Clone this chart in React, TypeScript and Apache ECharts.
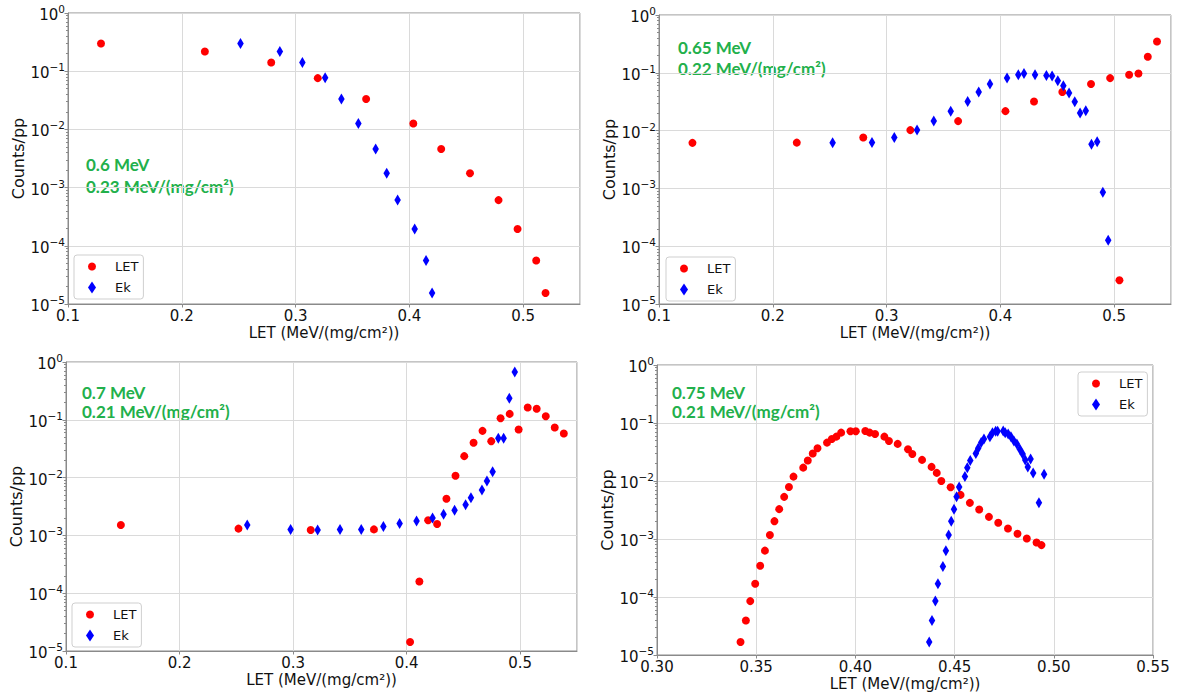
import { useEffect, useRef } from "react";
import * as echarts from "echarts";

// Counts per primary particle versus LET, for the LET spectrum and the Ek-derived spectrum.
// Each panel: [LET (MeV/(mg/cm²)), counts/pp]

const p1Let = [
  [0.129, 0.3], [0.2203, 0.218], [0.2786, 0.141], [0.3195, 0.076], [0.362, 0.0334],
  [0.4035, 0.0126], [0.428, 0.0046], [0.4533, 0.00176], [0.4784, 6.1e-4], [0.4951, 1.95e-4],
  [0.5115, 5.6e-5], [0.5197, 1.55e-5],
];
const p1Ek = [
  [0.2516, 0.3], [0.2862, 0.218], [0.306, 0.141], [0.326, 0.077], [0.3403, 0.0334],
  [0.3552, 0.0126], [0.3704, 0.0046], [0.3801, 0.00176], [0.3897, 6.1e-4], [0.4047, 1.95e-4],
  [0.4147, 5.6e-5], [0.42, 1.55e-5],
];

const p2Let = [
  [0.1294, 6.14e-3], [0.2211, 6.2e-3], [0.2795, 7.6e-3], [0.3209, 0.0102], [0.3629, 0.0146],
  [0.4045, 0.0217], [0.4296, 0.0319], [0.4545, 0.0464], [0.4797, 0.0638], [0.4965, 0.081],
  [0.5047, 2.57e-5], [0.5132, 0.0925], [0.5214, 0.0975], [0.5296, 0.19], [0.5377, 0.349],
];
const p2Ek = [
  [0.2526, 6.14e-3], [0.2872, 6.2e-3], [0.3068, 7.6e-3], [0.3268, 0.0102], [0.3415, 0.0146],
  [0.3564, 0.0217], [0.3713, 0.0319], [0.381, 0.0464], [0.3909, 0.0638], [0.4059, 0.081],
  [0.4158, 0.0925], [0.4208, 0.0975], [0.4305, 0.0925], [0.4405, 0.09], [0.4455, 0.088],
  [0.4505, 0.0728], [0.4554, 0.0597], [0.4604, 0.0446], [0.4654, 0.0315], [0.4701, 0.0201],
  [0.4751, 0.022], [0.4801, 5.83e-3], [0.4851, 6.4e-3], [0.4901, 8.6e-4], [0.4948, 1.27e-4],
];

const p3Let = [
  [0.1483, 1.51e-3], [0.2519, 1.31e-3], [0.3155, 1.24e-3], [0.3712, 1.27e-3], [0.403, 1.43e-5],
  [0.4112, 1.59e-4], [0.4189, 1.83e-3], [0.4268, 1.58e-3], [0.435, 4.31e-3], [0.443, 0.0108],
  [0.4507, 0.0235], [0.4589, 0.04], [0.4668, 0.0644], [0.4745, 0.0427], [0.4827, 0.1067],
  [0.4907, 0.1265], [0.4986, 0.068], [0.5066, 0.163], [0.5145, 0.155], [0.5225, 0.1155],
  [0.5304, 0.0736], [0.5384, 0.058],
];
const p3Ek = [
  [0.2596, 1.51e-3], [0.2978, 1.27e-3], [0.3216, 1.24e-3], [0.3413, 1.27e-3], [0.36, 1.27e-3],
  [0.3795, 1.42e-3], [0.3938, 1.6e-3], [0.4087, 1.78e-3], [0.4228, 2.0e-3], [0.4325, 2.32e-3],
  [0.4422, 2.72e-3], [0.4519, 3.4e-3], [0.4566, 4.49e-3], [0.4663, 6.1e-3], [0.4707, 8.7e-3],
  [0.4757, 0.0126], [0.4807, 0.048], [0.4854, 0.048], [0.4904, 0.236], [0.4952, 0.672],
];

const p4Let = [
  [0.3421, 1.67e-5], [0.3448, 3.94e-5], [0.347, 8.5e-5], [0.3495, 1.69e-4], [0.352, 3.45e-4],
  [0.3544, 6.3e-4], [0.3569, 1.17e-3], [0.3592, 2.03e-3], [0.3616, 3.27e-3], [0.3641, 5.33e-3],
  [0.3665, 7.9e-3], [0.3688, 0.0119], [0.3737, 0.017], [0.376, 0.0225], [0.3785, 0.0297],
  [0.3809, 0.0367], [0.3857, 0.0459], [0.3881, 0.0531], [0.3904, 0.0582], [0.3928, 0.0682],
  [0.3975, 0.0721], [0.4002, 0.0721], [0.405, 0.073], [0.4072, 0.0682], [0.4099, 0.0648],
  [0.4146, 0.0582], [0.4169, 0.049], [0.4213, 0.0436], [0.4265, 0.0353], [0.4287, 0.0293],
  [0.4336, 0.0231], [0.4384, 0.0175], [0.441, 0.0138], [0.4433, 0.01], [0.448, 7.8e-3],
  [0.453, 5.76e-3], [0.4577, 4.2e-3], [0.4624, 3.22e-3], [0.4673, 2.41e-3], [0.472, 1.9e-3],
  [0.4769, 1.52e-3], [0.4817, 1.23e-3], [0.4864, 1.02e-3], [0.4913, 8.7e-4], [0.4938, 7.85e-4],
];
const p4Ek = [
  [0.4372, 1.67e-5], [0.4386, 3.94e-5], [0.4403, 8.5e-5], [0.4416, 1.69e-4], [0.4441, 3.36e-4],
  [0.4456, 6.3e-4], [0.447, 1.17e-3], [0.4483, 2.03e-3], [0.4497, 3.27e-3], [0.451, 5.33e-3],
  [0.4523, 7.9e-3], [0.4552, 0.0119], [0.4564, 0.017], [0.4579, 0.0225], [0.4607, 0.0297],
  [0.4619, 0.0367], [0.4634, 0.0459], [0.4648, 0.0531], [0.4678, 0.0582], [0.4691, 0.0682],
  [0.4707, 0.0721], [0.4717, 0.0721], [0.4745, 0.073], [0.4755, 0.0682], [0.477, 0.0648],
  [0.4784, 0.0582], [0.4799, 0.049], [0.4814, 0.0436], [0.4829, 0.0353], [0.4843, 0.0293],
  [0.4856, 0.0231], [0.4869, 0.0175], [0.4883, 0.024], [0.4896, 0.0138], [0.4925, 4.2e-3],
  [0.4951, 0.0131],
];

// Beam energy and surface LET shown in each panel
const energyLabels = ["0.6 MeV", "0.65 MeV", "0.7 MeV", "0.75 MeV"];
const letLabels = [
  "0.23 MeV/(mg/cm²)",
  "0.22 MeV/(mg/cm²)",
  "0.21 MeV/(mg/cm²)",
  "0.21 MeV/(mg/cm²)",
];

// Log-axis limits and minor tick mantissas
const Y_MIN = 1e-5;
const Y_MAX = 1;
const MINOR_MANTISSAS = [2, 3, 4, 5, 6, 7, 8, 9];
const DECADES = [-5, -4, -3, -2, -1];

const TEXT = "#111111";
const FRAME = "#8a8a8a";
const GRIDLINE = "#dadada";
const GREEN = "#22b04b";
const FONT = "DejaVu Sans";

const layout = [
  {
    grid: { left: 68, top: 13, width: 512, height: 291 },
    x: { min: 0.1, max: 0.55, step: 0.1, digits: 1, showMax: false },
    legend: { left: 74, top: 255 },
    note: { x: 86, y: 164, lineHeight: 22 },
    let: p1Let,
    ek: p1Ek,
  },
  {
    grid: { left: 659, top: 15, width: 512, height: 289 },
    x: { min: 0.1, max: 0.55, step: 0.1, digits: 1, showMax: false },
    legend: { left: 666, top: 257 },
    note: { x: 678, y: 47, lineHeight: 21 },
    let: p2Let,
    ek: p2Ek,
  },
  {
    grid: { left: 66, top: 362, width: 511, height: 289 },
    x: { min: 0.1, max: 0.55, step: 0.1, digits: 1, showMax: false },
    legend: { left: 72, top: 603 },
    note: { x: 82, y: 392, lineHeight: 19 },
    let: p3Let,
    ek: p3Ek,
  },
  {
    grid: { left: 657, top: 365, width: 496, height: 290 },
    x: { min: 0.3, max: 0.55, step: 0.05, digits: 2, showMax: true },
    legend: { left: 1078, top: 372 },
    note: { x: 672, y: 392.5, lineHeight: 19 },
    let: p4Let,
    ek: p4Ek,
  },
];

function buildOption() {
  const minorValues: number[] = [];
  DECADES.forEach((d) => MINOR_MANTISSAS.forEach((m) => minorValues.push(m * Math.pow(10, d))));

  const grid: any[] = [];
  const xAxis: any[] = [];
  const yAxis: any[] = [];
  const series: any[] = [];
  const legend: any[] = [];
  const graphic: any[] = [];

  layout.forEach((p, i) => {
    grid.push({
      ...p.grid,
      show: true,
      borderColor: FRAME,
      borderWidth: 1,
      backgroundColor: "transparent",
    });

    xAxis.push({
      type: "value",
      gridIndex: i,
      min: p.x.min,
      max: p.x.max,
      interval: p.x.step,
      name: "LET (MeV/(mg/cm²))",
      nameLocation: "middle",
      nameGap: 21,
      nameTextStyle: { fontSize: 15, color: TEXT, fontFamily: FONT },
      axisLine: { show: true, lineStyle: { color: FRAME } },
      axisTick: { show: true, length: 3.5, lineStyle: { color: FRAME } },
      axisLabel: {
        margin: 4,
        fontSize: 15,
        color: TEXT,
        fontFamily: FONT,
        showMaxLabel: p.x.showMax,
        formatter: (v: number) => v.toFixed(p.x.digits),
      },
      splitLine: { show: true, lineStyle: { color: GRIDLINE, width: 1 } },
    });

    // main log axis with decade labels
    yAxis.push({
      type: "log",
      logBase: 10,
      gridIndex: i,
      min: Y_MIN,
      max: Y_MAX,
      interval: 1,
      name: "Counts/pp",
      nameLocation: "middle",
      nameGap: 40,
      nameRotate: 90,
      nameTextStyle: { fontSize: 16, color: TEXT, fontFamily: FONT },
      axisLine: { show: true, lineStyle: { color: FRAME } },
      axisTick: { show: true, length: 3.5, lineStyle: { color: FRAME } },
      axisLabel: {
        margin: 3,
        color: TEXT,
        fontFamily: FONT,
        formatter: (v: number) => {
          const e = Math.round(Math.log10(v));
          const s = e < 0 ? "\u2212" + -e : String(e);
          return `{b|10}{e|${s}}`;
        },
        rich: {
          b: { fontSize: 15, fontFamily: FONT, color: TEXT, padding: [4, 0, 0, 0], verticalAlign: "bottom" },
          e: { fontSize: 10.5, fontFamily: FONT, color: TEXT, verticalAlign: "top" },
        },
      },
      splitLine: { show: true, lineStyle: { color: GRIDLINE, width: 1 } },
    });
    // overlay axis carrying only the minor ticks
    yAxis.push({
      type: "log",
      logBase: 10,
      gridIndex: i,
      min: Y_MIN,
      max: Y_MAX,
      position: "left",
      axisLine: { show: false },
      axisLabel: { show: false },
      splitLine: { show: false },
      axisTick: { show: true, length: 2, customValues: minorValues, lineStyle: { color: FRAME } },
    });

    series.push({
      type: "scatter",
      name: "LET",
      xAxisIndex: i,
      yAxisIndex: i * 2,
      data: p.let,
      symbol: "circle",
      symbolSize: 8,
      itemStyle: { color: "#ff0000", opacity: 1 },
    });
    series.push({
      type: "scatter",
      name: "Ek",
      xAxisIndex: i,
      yAxisIndex: i * 2,
      data: p.ek,
      symbol: "diamond",
      symbolSize: [6.5, 11],
      itemStyle: { color: "#0000ff", opacity: 1 },
    });

    legend.push({
      orient: "vertical",
      left: p.legend.left,
      top: p.legend.top,
      padding: [5, 5, 5, 14],
      itemWidth: 8,
      itemHeight: 12,
      itemGap: 8,
      borderColor: "#cfcfcf",
      borderWidth: 1,
      borderRadius: 3,
      backgroundColor: "#ffffff",
      textStyle: { fontSize: 13, fontFamily: FONT, color: TEXT, padding: [0, 0, 0, 14] },
      data: [
        { name: "LET", icon: "circle" },
        { name: "Ek", icon: "diamond" },
      ],
    });

    // two-line annotation: beam energy and LET
    graphic.push({
      type: "text",
      left: p.note.x,
      top: p.note.y - p.note.lineHeight / 2,
      style: {
        text: energyLabels[i] + "\n" + letLabels[i],
        fill: GREEN,
        font: "bold 17px Lato",
        lineHeight: p.note.lineHeight,
      },
    });
  });

  return {
    animation: false,
    backgroundColor: "#ffffff",
    grid,
    xAxis,
    yAxis,
    series,
    legend,
    graphic,
  };
}

export default function App() {
  const ref = useRef<HTMLDivElement>(null);

  useEffect(() => {
    if (!ref.current) return;
    const chart = echarts.init(ref.current, undefined, { renderer: "svg" });
    chart.setOption(buildOption());
    return () => chart.dispose();
  }, []);

  return (
    <div
      ref={ref}
      style={{ position: "fixed", left: 0, top: 0, width: 1178, height: 694, background: "#fff" }}
    />
  );
}
